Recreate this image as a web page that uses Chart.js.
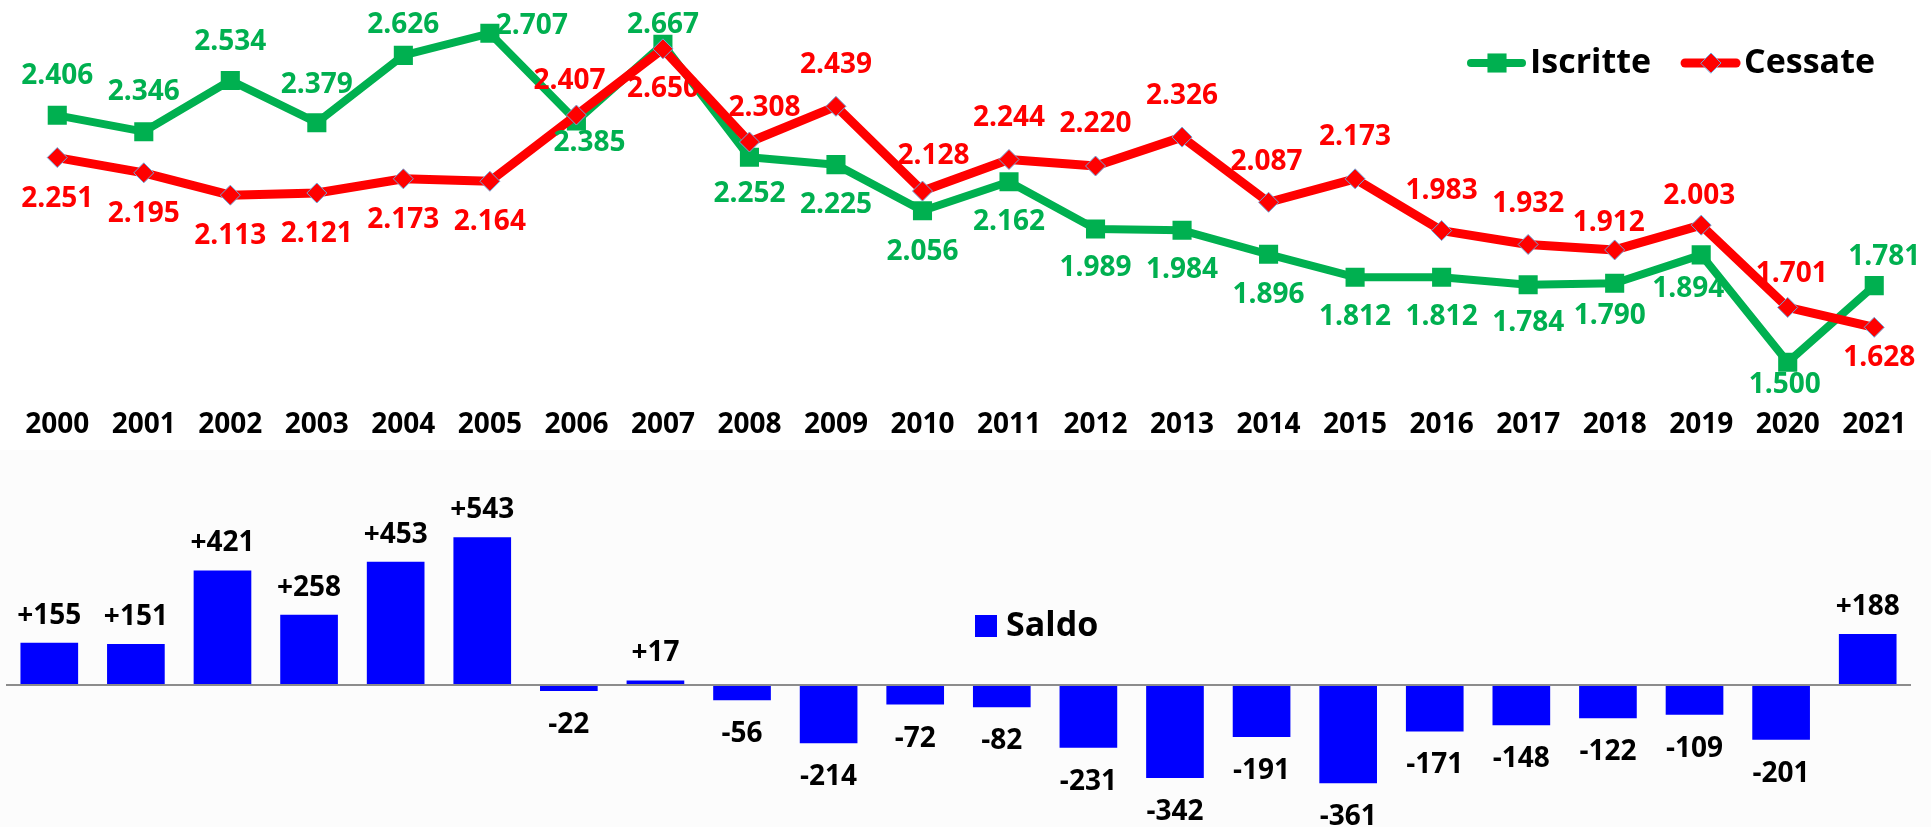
<!DOCTYPE html>
<html>
<head>
<meta charset="utf-8">
<script src="https://cdn.jsdelivr.net/npm/chart.js@4.4.1/dist/chart.umd.min.js"></script>
<style>
  body { margin: 0; background: #fcfcfc; width: 1931px; height: 827px; overflow: hidden; }
  #lineChart { position: absolute; left: 0; top: 0; background: #fff; }
  #barChart { position: absolute; left: 0; top: 450px; }
</style>
</head>
<body>
<canvas id="lineChart" width="1931" height="450"></canvas>
<canvas id="barChart" width="1931" height="377"></canvas>
<script>
// data
var years = ['2000', '2001', '2002', '2003', '2004', '2005', '2006', '2007', '2008', '2009', '2010',
             '2011', '2012', '2013', '2014', '2015', '2016', '2017', '2018', '2019', '2020', '2021'];
var iscritte = [2406, 2346, 2534, 2379, 2626, 2707, 2385, 2667, 2252, 2225, 2056,
                2162, 1989, 1984, 1896, 1812, 1812, 1784, 1790, 1894, 1500, 1781];
var cessate = [2251, 2195, 2113, 2121, 2173, 2164, 2407, 2650, 2308, 2439, 2128,
               2244, 2220, 2326, 2087, 2173, 1983, 1932, 1912, 2003, 1701, 1628];
var saldo = [155, 151, 421, 258, 453, 543, -22, 17, -56, -214, -72,
             -82, -231, -342, -191, -361, -171, -148, -122, -109, -201, 188];

// where each value label sits, relative to its point (px)
var iscritteLabelPos = [[0, -39], [0, -40], [0, -38], [0, -38], [0, -30], [42, -7], [13, 22], [0, -19],
                        [0, 37], [0, 40], [0, 41], [0, 40], [0, 39], [0, 40], [0, 41], [0, 40], [0, 40],
                        [0, 38], [-5, 33], [-13, 34], [-3, 23], [10, -29]];
var cessateLabelPos = [[0, 41], [0, 41], [0, 41], [0, 41], [0, 41], [0, 41], [-7, -34], [0, 40],
                       [15, -34], [0, -41], [11, -35], [0, -41], [0, -42], [0, -41], [-2, -40], [0, -42],
                       [0, -40], [0, -40], [-6, -27], [-2, -29], [4, -33], [5, 31]];

var FONT = "'Open Sans', sans-serif";
Chart.defaults.font.family = FONT;
Chart.defaults.color = '#000';

function fmt(v) {
    return String(v).replace(/\B(?=(\d{3})+(?!\d))/g, '.');
}

var lineLabels = {
    id: 'lineLabels',
    afterDatasetsDraw: function (chart) {
        var ctx = chart.ctx;
        ctx.save();
        ctx.font = 'bold 28px ' + FONT;
        ctx.textAlign = 'center';
        ctx.textBaseline = 'middle';
        chart.data.datasets.forEach(function (ds, i) {
            var meta = chart.getDatasetMeta(i);
            ctx.fillStyle = ds.borderColor;
            meta.data.forEach(function (pt, j) {
                var off = ds.labelPos[j];
                ctx.fillText(fmt(ds.data[j]), pt.x + off[0], pt.y + off[1]);
            });
        });
        ctx.restore();
    }
};

var lineLegend = {
    id: 'lineLegend',
    afterDraw: function (chart) {
        var ctx = chart.ctx;
        var x = 1467, y = 63;
        chart.data.datasets.forEach(function (ds) {
            ctx.save();
            ctx.strokeStyle = ds.borderColor;
            ctx.lineWidth = ds.borderWidth;
            ctx.lineCap = 'round';
            ctx.beginPath();
            ctx.moveTo(x + 4, y);
            ctx.lineTo(x + 55, y);
            ctx.stroke();
            ctx.fillStyle = ds.pointBackgroundColor;
            ctx.strokeStyle = ds.pointBorderColor;
            ctx.lineWidth = ds.pointBorderWidth;
            Chart.helpers.drawPoint(ctx, {
                pointStyle: ds.pointStyle, radius: ds.pointRadius,
                borderWidth: ds.pointBorderWidth, rotation: 0
            }, x + 30, y);
            ctx.fillStyle = '#000';
            ctx.font = 'bold 34px ' + FONT;
            ctx.textAlign = 'left';
            ctx.textBaseline = 'middle';
            ctx.fillText(ds.label, x + 63, y);
            x += 63 + ctx.measureText(ds.label).width + 30;
            ctx.restore();
        });
    }
};

var lineChart = new Chart(document.getElementById('lineChart'), {
    type: 'line',
    data: {
        labels: years,
        datasets: [{
            label: 'Iscritte',
            data: iscritte,
            labelPos: iscritteLabelPos,
            borderColor: '#00b050',
            borderWidth: 8,
            pointStyle: 'rect',
            pointRadius: 13.5,
            pointBackgroundColor: '#00b050',
            pointBorderColor: '#00b050',
            pointBorderWidth: 0,
            borderJoinStyle: 'round',
            order: 1
        }, {
            label: 'Cessate',
            data: cessate,
            labelPos: cessateLabelPos,
            borderColor: '#ff0000',
            borderWidth: 9,
            pointStyle: 'rectRot',
            pointRadius: 10,
            pointBackgroundColor: '#ff0000',
            pointBorderColor: '#6fa8dc',
            pointBorderWidth: 1,
            borderJoinStyle: 'round',
            order: 0
        }]
    },
    options: {
        responsive: false,
        animation: false,
        devicePixelRatio: 1,
        layout: { padding: { left: 14, right: 5, top: 0, bottom: 0 } },
        plugins: { legend: { display: false }, tooltip: { enabled: false } },
        scales: {
            x: {
                offset: true,
                grid: { display: false, drawTicks: false },
                border: { display: false },
                ticks: { font: { size: 28, weight: 'bold' }, color: '#000', padding: 8, maxRotation: 0, autoSkip: false }
            },
            y: { display: false, min: 1334, max: 2829 }
        }
    },
    plugins: [lineLabels, lineLegend]
});

// fit the value axis so 2707 sits 33px from the top at 0.2725 px per unit
var area = lineChart.chartArea;
lineChart.options.scales.y.max = 2707 + (33.3 - area.top) / 0.2725;
lineChart.options.scales.y.min = 2707 - (area.bottom - 33.3) / 0.2725;
lineChart.update();

var barLabels = {
    id: 'barLabels',
    afterDatasetsDraw: function (chart) {
        var ctx = chart.ctx;
        var ds = chart.data.datasets[0];
        ctx.save();
        ctx.font = 'bold 28px ' + FONT;
        ctx.textAlign = 'center';
        ctx.textBaseline = 'middle';
        ctx.fillStyle = '#000';
        chart.getDatasetMeta(0).data.forEach(function (bar, j) {
            var v = ds.data[j];
            var txt = (v > 0 ? '+' : '') + v;
            ctx.fillText(txt, bar.x, v >= 0 ? bar.y - 27 : bar.y + 34);
        });
        ctx.restore();
    }
};

var barLegend = {
    id: 'barLegend',
    afterDraw: function (chart) {
        var ctx = chart.ctx;
        var ds = chart.data.datasets[0];
        var x = 975, y = 176;
        ctx.save();
        ctx.fillStyle = ds.backgroundColor;
        ctx.fillRect(x, y - 11, 22, 22);
        ctx.fillStyle = '#000';
        ctx.font = 'bold 34px ' + FONT;
        ctx.textAlign = 'left';
        ctx.textBaseline = 'middle';
        ctx.fillText(ds.label, x + 31, y);
        ctx.restore();
    }
};

new Chart(document.getElementById('barChart'), {
    type: 'bar',
    data: {
        labels: years,
        datasets: [{
            label: 'Saldo',
            data: saldo,
            backgroundColor: '#0000ff',
            categoryPercentage: 1,
            barPercentage: 0.666
        }]
    },
    options: {
        responsive: false,
        animation: false,
        devicePixelRatio: 1,
        layout: { padding: { left: 6, right: 20, top: 0, bottom: 0 } },
        plugins: { legend: { display: false }, tooltip: { enabled: false } },
        scales: {
            x: { display: false },
            y: {
                min: -522,
                max: 864,
                ticks: { display: false, stepSize: 100 },
                border: { display: false },
                grid: {
                    drawTicks: false,
                    lineWidth: 2,
                    color: function (c) {
                        return c.tick && c.tick.value === 0 ? '#8c8c8c' : 'rgba(0,0,0,0)';
                    }
                }
            }
        }
    },
    plugins: [barLabels, barLegend]
});
</script>
</body>
</html>
